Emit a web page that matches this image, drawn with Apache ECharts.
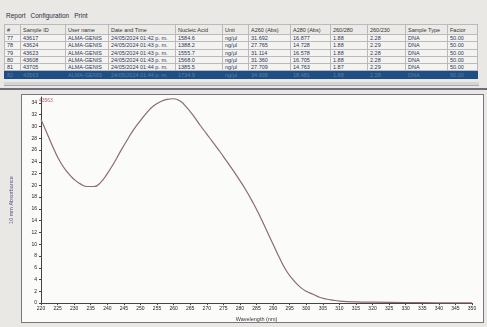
<!DOCTYPE html>
<html>
<head>
<meta charset="utf-8">
<script src="https://cdn.jsdelivr.net/npm/echarts@6/dist/echarts.min.js"></script>
<style>
  html, body { margin:0; padding:0; width:487px; height:327px; overflow:hidden; background:#e9e8e4; font-family:"Liberation Sans", Arial, sans-serif; }
  #menu { position:absolute; left:6px; top:12px; font-size:6.5px; color:#2a2f45; }
  #menu span { margin-right:5px; }
  #tbl { position:absolute; left:4px; top:24px; border-collapse:collapse; table-layout:fixed; font-size:5.5px; color:#2a3658; background:#f4f3f0; }
  #tbl td, #tbl th { border:1px solid #b9b9c0; height:6.3px; padding:0 2px; white-space:nowrap; overflow:hidden; line-height:6px; font-weight:normal; text-align:left; }
  #tbl th { height:9px; color:#333; background:#eceae6; }
  #tbl tr.sel td { background:#1f4e85; color:#5f7fa8; border-color:#1f4e85; }
  #sep1 { position:absolute; left:4px; top:82px; width:475px; height:3px; background:#d6d5d2; border-bottom:1px solid #a8a8ac; }
  #sep2 { position:absolute; left:0; top:88px; width:487px; height:2px; background:#6e6e78; }
  #panel { position:absolute; left:21px; top:94px; width:461px; height:227px; background:#fbfbfa; border:1px solid #77777f; }
  #chart { position:absolute; left:0; top:0; width:487px; height:327px; }
</style>
</head>
<body>
<div id="menu"><span>Report</span><span>Configuration</span><span>Print</span></div>
<table id="tbl"></table>
<div id="sep1"></div>
<div id="sep2"></div>
<div id="panel"></div>
<div id="chart"></div>
<script>
// ---- table data ----
const headers = ["#", "Sample ID", "User name", "Date and Time", "Nucleic Acid", "Unit", "A260 (Abs)", "A280 (Abs)", "260/280", "260/230", "Sample Type", "Factor"];
const colWidths = [16, 45, 43, 67, 47, 26, 42, 40, 37, 38, 42, 30];
const rowNums = ["77", "78", "79", "80", "81", "82"];
const sampleIds = ["43617", "43624", "43623", "43608", "43705", "43563"];
const userNames = ["ALMA-GENIS", "ALMA-GENIS", "ALMA-GENIS", "ALMA-GENIS", "ALMA-GENIS", "ALMA-GENIS"];
const dateTimes = ["24/05/2024 01:42 p. m.", "24/05/2024 01:43 p. m.", "24/05/2024 01:43 p. m.", "24/05/2024 01:43 p. m.", "24/05/2024 01:44 p. m.", "24/05/2024 01:44 p. m."];
const nucleicAcid = ["1584.6", "1388.2", "1555.7", "1568.0", "1385.5", "1734.9"];
const units = ["ng/µl", "ng/µl", "ng/µl", "ng/µl", "ng/µl", "ng/µl"];
const a260 = ["31.692", "27.765", "31.114", "31.360", "27.709", "34.698"];
const a280 = ["16.877", "14.728", "16.578", "16.705", "14.763", "18.481"];
const r260_280 = ["1.88", "1.88", "1.88", "1.88", "1.87", "1.88"];
const r260_230 = ["2.28", "2.29", "2.28", "2.28", "2.29", "2.28"];
const sampleTypes = ["DNA", "DNA", "DNA", "DNA", "DNA", "DNA"];
const factors = ["50.00", "50.00", "50.00", "50.00", "50.00", "50.00"];
const selectedRow = 5;

// ---- spectrum data ----
const wavelengths = [220,222,224,226,228,230,232,234,236,238,240,242,244,246,248,250,252,254,256,258,260,262,264,266,268,270,272,274,276,278,280,282,284,286,288,290,292,294,296,298,300,302,304,306,308,310,315,320,330,340,350];
const absorbance  = [31.2,28.6,26.0,23.8,22.2,21.0,20.2,19.8,19.8,20.5,22.0,23.8,25.8,27.7,29.5,31.0,32.4,33.5,34.2,34.6,34.7,34.3,33.2,31.8,30.2,28.7,27.2,25.7,24.1,22.5,20.8,19.0,17.0,14.8,12.4,10.0,7.6,5.5,4.0,2.8,2.0,1.5,1.0,0.7,0.5,0.35,0.2,0.15,0.1,0.05,0.05];
const sampleLabel = "43563";

// build table
const tbl = document.getElementById('tbl');
const cg = document.createElement('colgroup');
colWidths.forEach(w => { const c = document.createElement('col'); c.style.width = w + 'px'; cg.appendChild(c); });
tbl.appendChild(cg);
const hr = document.createElement('tr');
headers.forEach(h => { const th = document.createElement('th'); th.textContent = h; hr.appendChild(th); });
tbl.appendChild(hr);
rowNums.forEach((n, i) => {
  const tr = document.createElement('tr');
  if (i === selectedRow) tr.className = 'sel';
  [n, sampleIds[i], userNames[i], dateTimes[i], nucleicAcid[i], units[i], a260[i], a280[i], r260_280[i], r260_230[i], sampleTypes[i], factors[i]].forEach(v => {
    const td = document.createElement('td'); td.textContent = v; tr.appendChild(td);
  });
  tbl.appendChild(tr);
});

const chart = echarts.init(document.getElementById('chart'), null, { renderer: 'canvas' });
chart.setOption({
  animation: false,
  backgroundColor: 'transparent',
  grid: { left: 36, right: 15, top: 97, bottom: 23 },
  xAxis: {
    type: 'value', min: 220, max: 350, interval: 5,
    name: 'Wavelength (nm)', nameLocation: 'middle', nameGap: 12,
    nameTextStyle: { fontSize: 5.5, color: '#333' },
    axisLine: { lineStyle: { color: '#444', width: 1 } },
    axisTick: { show: true, length: 2, lineStyle: { color: '#444' } },
    axisLabel: { fontSize: 5, color: '#222', margin: 3 },
    splitLine: { show: false }
  },
  yAxis: {
    type: 'value', min: 0, max: 35, interval: 2,
    name: '10 mm Absorbance', nameLocation: 'middle', nameGap: 27,
    nameTextStyle: { fontSize: 5.5, color: '#5e4f84' },
    axisLine: { show: true, lineStyle: { color: '#444', width: 1 } },
    axisTick: { show: true, length: 2, lineStyle: { color: '#444' } },
    axisLabel: { fontSize: 5, color: '#222', margin: 4, showMaxLabel: false },
    splitLine: { show: false }
  },
  graphic: [{
    type: 'text', left: 39, top: 98,
    style: { text: sampleLabel, fontSize: 5, fill: '#b06070' }
  }],
  series: [{
    type: 'line', smooth: true, symbol: 'none',
    data: wavelengths.map((w, i) => [w, absorbance[i]]),
    lineStyle: { color: '#8a6c72', width: 1.2 }
  }]
});
</script>
</body>
</html>
